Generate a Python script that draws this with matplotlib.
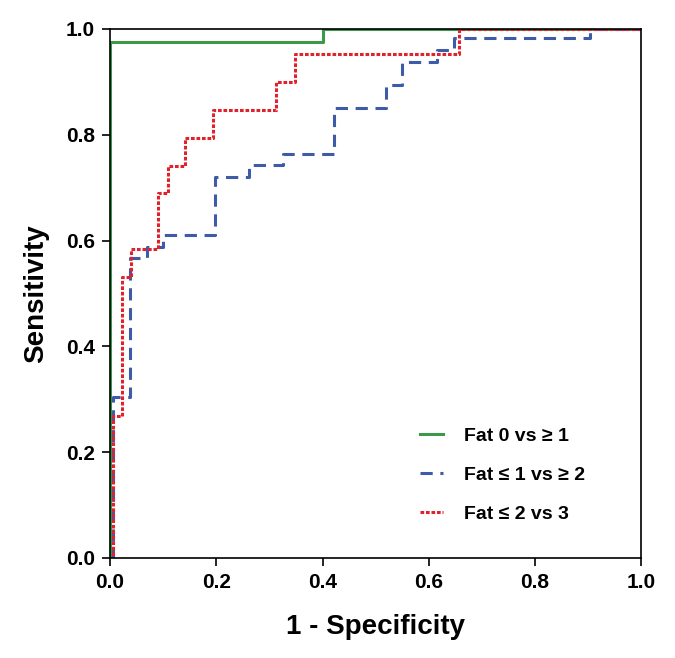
import numpy as np
import matplotlib.pyplot as plt

plt.rcParams['font.family'] = ['Liberation Sans', 'DejaVu Sans']
plt.rcParams['font.weight'] = 'bold'

# ROC step curves (1 - specificity, sensitivity)
fpr_fat0 = [0.0, 0.0, 0.401, 0.401, 1.0]
tpr_fat0 = [0.0, 0.976, 0.976, 1.0, 1.0]

fpr_fat1 = [0.0, 0.005, 0.005, 0.038, 0.038, 0.069, 0.069, 0.099, 0.099, 0.198,
            0.198, 0.261, 0.261, 0.325, 0.325, 0.421, 0.421, 0.519, 0.519, 0.549,
            0.549, 0.615, 0.615, 0.648, 0.648, 0.904, 0.904, 1.0]
tpr_fat1 = [0.0, 0.0, 0.305, 0.305, 0.567, 0.567, 0.588, 0.588, 0.611, 0.611,
            0.721, 0.721, 0.742, 0.742, 0.764, 0.764, 0.850, 0.850, 0.895, 0.895,
            0.938, 0.938, 0.960, 0.960, 0.982, 0.982, 1.0, 1.0]

fpr_fat2 = [0.0, 0.005, 0.005, 0.022, 0.022, 0.039, 0.039, 0.091, 0.091, 0.109,
            0.109, 0.141, 0.141, 0.193, 0.193, 0.313, 0.313, 0.348, 0.348, 0.657,
            0.657, 1.0]
tpr_fat2 = [0.0, 0.0, 0.268, 0.268, 0.532, 0.532, 0.584, 0.584, 0.689, 0.689,
            0.741, 0.741, 0.794, 0.794, 0.847, 0.847, 0.899, 0.899, 0.952, 0.952,
            1.0, 1.0]

labels = ['Fat 0 vs \u2265 1', 'Fat \u2264 1 vs \u2265 2', 'Fat \u2264 2 vs 3']
ticks = [0.0, 0.2, 0.4, 0.6, 0.8, 1.0]

fig = plt.figure(figsize=(6.75, 6.58), dpi=100)
ax = fig.add_axes([0.163, 0.152, 0.787, 0.804])

ax.plot(fpr_fat0, tpr_fat0, color='#3a9a4a', lw=2.2, label=labels[0])
ax.plot(fpr_fat1, tpr_fat1, color='#3d5ba8', lw=2.2, ls=(0, (4, 2.5)), label=labels[1])
ax.plot(fpr_fat2, tpr_fat2, color='#e0222c', lw=2.2, ls=(0, (1.2, 0.6)), label=labels[2])

ax.set_xlim(0, 1)
ax.set_ylim(0, 1)
ax.set_xticks(ticks)
ax.set_yticks(ticks)
ax.set_xticklabels([f"{t:.1f}" for t in ticks])
ax.set_yticklabels([f"{t:.1f}" for t in ticks])
ax.tick_params(direction='out', length=6, width=1.2, labelsize=15, pad=5)
for s in ax.spines.values():
    s.set_linewidth(1.2)

ax.set_xlabel('1 - Specificity', fontsize=20, fontweight='bold', labelpad=16)
ax.set_ylabel('Sensitivity', fontsize=20, fontweight='bold', labelpad=12)

ax.legend(loc='upper left', bbox_to_anchor=(0.55, 0.28), frameon=False,
          fontsize=14, handlelength=1.2, labelspacing=1.1, handletextpad=1.1)

fig.savefig('out.png', dpi=100)
